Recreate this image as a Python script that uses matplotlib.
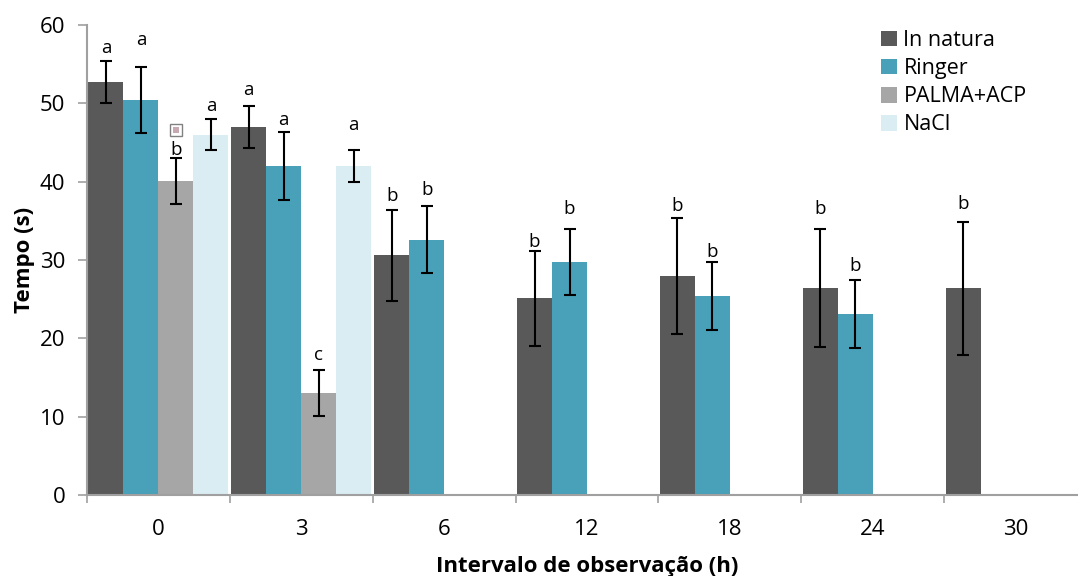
import numpy as np
import matplotlib.pyplot as plt

plt.rcParams['font.family'] = ['Open Sans', 'DejaVu Sans']

categorias = ['0', '3', '6', '12', '18', '24', '30']
series = ['In natura', 'Ringer', 'PALMA+ACP', 'NaCl']

in_natura = [52.7, 47.0, 30.6, 25.1, 28.0, 26.4, 26.4]
in_natura_err = [2.7, 2.7, 5.8, 6.1, 7.4, 7.5, 8.5]
ringer = [50.4, 42.0, 32.6, 29.7, 25.4, 23.1, np.nan]
ringer_err = [4.2, 4.3, 4.3, 4.2, 4.3, 4.3, np.nan]
palma = [40.1, 13.0, np.nan, np.nan, np.nan, np.nan, np.nan]
palma_err = [2.9, 2.9, np.nan, np.nan, np.nan, np.nan, np.nan]
nacl = [46.0, 42.0, np.nan, np.nan, np.nan, np.nan, np.nan]
nacl_err = [2.0, 2.0, np.nan, np.nan, np.nan, np.nan, np.nan]

letras_in_natura = ['a', 'a', 'b', 'b', 'b', 'b', 'b']
letras_ringer = ['a', 'a', 'b', 'b', 'b', 'b', '']
letras_palma = ['b', 'c', '', '', '', '', '']
letras_nacl = ['a', 'a', '', '', '', '', '']

valores = [in_natura, ringer, palma, nacl]
erros = [in_natura_err, ringer_err, palma_err, nacl_err]
letras = [letras_in_natura, letras_ringer, letras_palma, letras_nacl]
cores = ['#595959', '#48a1b9', '#a6a6a6', '#daedf3']

# gap (points) between error-bar top and the letter baseline
desloc = [
    [5.8, 7.9, 6.5, 2.9, 5.0, 10.8, 9.4],
    [15.8, 5.0, 7.9, 10.8, 3.6, 6.5, 0],
    [2.2, 7.2, 0, 0, 0, 0, 0],
    [5.8, 14.4, 0, 0, 0, 0, 0],
]

fig = plt.figure(figsize=(10.78, 5.76), dpi=100)
ax = fig.add_axes([87 / 1078, 81 / 576, 1000 / 1078, 470 / 576])

x = np.arange(len(categorias))
w = 0.245
for k in range(4):
    pos = x + (k - 1.5) * w
    ax.bar(pos, valores[k], width=w, color=cores[k], label=series[k], zorder=2)
    ax.errorbar(pos, valores[k], yerr=erros[k], fmt='none', ecolor='black',
                elinewidth=1.5, capsize=4.3, capthick=1.5, zorder=3)
    for i in range(len(categorias)):
        if letras[k][i]:
            topo = valores[k][i] + erros[k][i]
            ax.annotate(letras[k][i], (pos[i], topo), xytext=(0, desloc[k][i]),
                        textcoords='offset points', ha='center', va='baseline',
                        fontsize=13.5)

# small placeholder glyph over PALMA+ACP at 0 h
ax.plot([x[0] + 0.5 * w], [46.6], marker='s', markersize=8,
        markerfacecolor='white', markeredgecolor='#808080', markeredgewidth=1, zorder=4)
ax.plot([x[0] + 0.5 * w], [46.6], marker='s', markersize=4.5,
        markerfacecolor='#c8a9b2', markeredgewidth=0, zorder=5)

ax.set_ylim(0, 60)
ax.set_yticks(range(0, 61, 10))
ax.set_xlim(-0.5, 6.5)
ax.set_xticks(x)
ax.set_xticklabels(categorias)
ax.set_xticks(np.arange(-0.5, 7, 1), minor=True)
ax.tick_params(axis='x', which='major', length=0, labelsize=16, pad=17)
ax.tick_params(axis='x', which='minor', length=6, width=1.2, color='#a0a0a0')
ax.tick_params(axis='y', length=6.5, width=1.2, color='#a0a0a0', labelsize=16, pad=9)

for s in ['top', 'right']:
    ax.spines[s].set_visible(False)
for s in ['left', 'bottom']:
    ax.spines[s].set_color('#a0a0a0')
    ax.spines[s].set_linewidth(1.5)

ax.set_ylabel('Tempo (s)', fontsize=16, fontweight='bold', labelpad=3.5)
ax.set_xlabel('Intervalo de observação (h)', fontsize=16, fontweight='bold', labelpad=12)

ax.legend(loc='upper left', bbox_to_anchor=(881 / 1078, 1 - 30 / 576),
          bbox_transform=fig.transFigure, frameon=False, fontsize=15.5,
          borderpad=0, borderaxespad=0, handlelength=0.74, handleheight=0.74,
          handletextpad=0.3, labelspacing=0.33)

fig.savefig('out.png', dpi=100)
